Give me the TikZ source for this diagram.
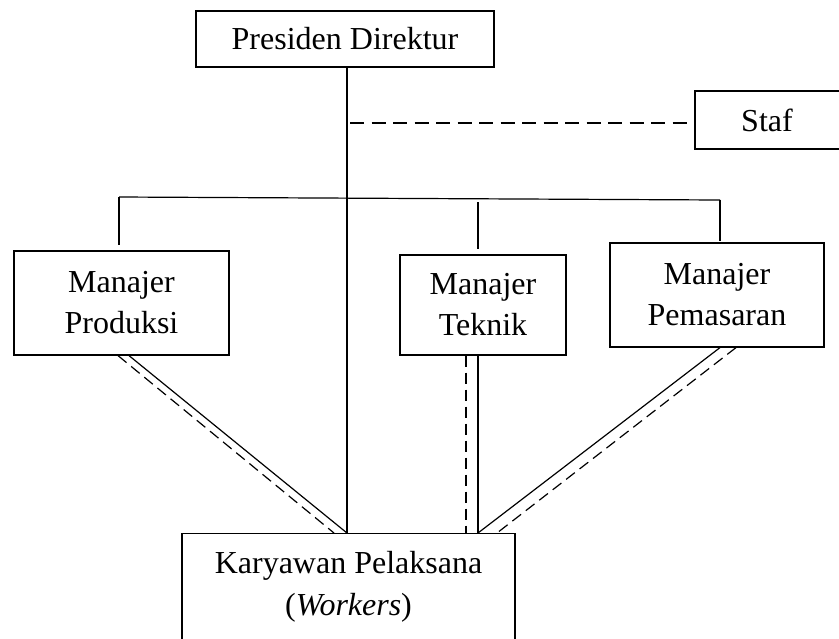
\documentclass[tikz,border=0pt]{standalone}
\usepackage{fontspec}
\setmainfont{Liberation Serif}
\usetikzlibrary{calc}
\begin{document}
\begin{tikzpicture}[x=1pt,y=-1pt,
  every node/.style={font=\fontsize{32}{41}\selectfont},
  box/.style={draw,line width=1.2pt,inner sep=0pt,align=center},
  ln/.style={line width=1.2pt},
  dsh/.style={line width=1.2pt,dash pattern=on 11pt off 6pt},
  dshs/.style={line width=1.5pt,dash pattern=on 14pt off 7.5pt}]
\useasboundingbox (0,0) rectangle (839,638);
% boxes
\node[box,minimum width=298pt,minimum height=56pt] (pd) at (345,39) {Presiden Direktur};
\node[box,minimum width=150pt,minimum height=58pt] (staf) at (770,120) {};
\node (staftxt) at (767,120) {Staf};
\node[box,minimum width=215pt,minimum height=104pt] (prod) at (121.5,303) {Manajer\\Produksi};
\node[box,minimum width=166pt,minimum height=100pt] (tek) at (483,305) {Manajer\\Teknik};
\node[box,minimum width=214pt,minimum height=104pt] (pem) at (717,295) {Manajer\\Pemasaran};
\node[box,minimum width=333pt,minimum height=130pt,anchor=north] (kar) at (348.5,533) {};
\node[anchor=base] (kar1) at (348.5,573) {Karyawan Pelaksana};
\node[anchor=base] (kar2) at (348.5,615) {(\textit{Workers})};
% junction coordinates
\coordinate (main) at (347,0);
\coordinate (sj) at (350,123);
\coordinate (b1) at (119,197);
\coordinate (b3) at (720,200);
% main vertical
\draw[ln] (pd.south -| main) -- (kar.north -| main);
% staff line
\draw[dshs] (sj) -- (staf.west |- sj);
% bus
\draw[ln] (b1) -- (b3);
\draw[ln] (b1) -- ($(b1)+(0,48)$);
\draw[ln] ($(tek.north)+(-5,-52)$) -- ($(tek.north)+(-5,-5)$);
\draw[ln] (b3) -- ($(pem.north)+(3,-1)$);
% diagonals to workers
\draw[ln] ($(prod.south)+(7.5,0)$) -- ($(kar.north)+(-1.5,0)$);
\draw[dsh] ($(prod.south)+(-3.5,0)$) -- ($(kar.north)+(-14.5,0)$);
\draw[ln] ($(tek.south)+(-5,0)$) -- ($(kar.north)+(129.5,0)$);
\draw[dsh] ($(tek.south)+(-17,0)$) -- ($(kar.north)+(117.5,0)$);
\draw[ln] ($(pem.south)+(3,0)$) -- ($(kar.north)+(129.5,0)$);
\draw[dsh] ($(pem.south)+(19,0)$) -- ($(kar.north)+(148.5,0)$);
\end{tikzpicture}
\end{document}
